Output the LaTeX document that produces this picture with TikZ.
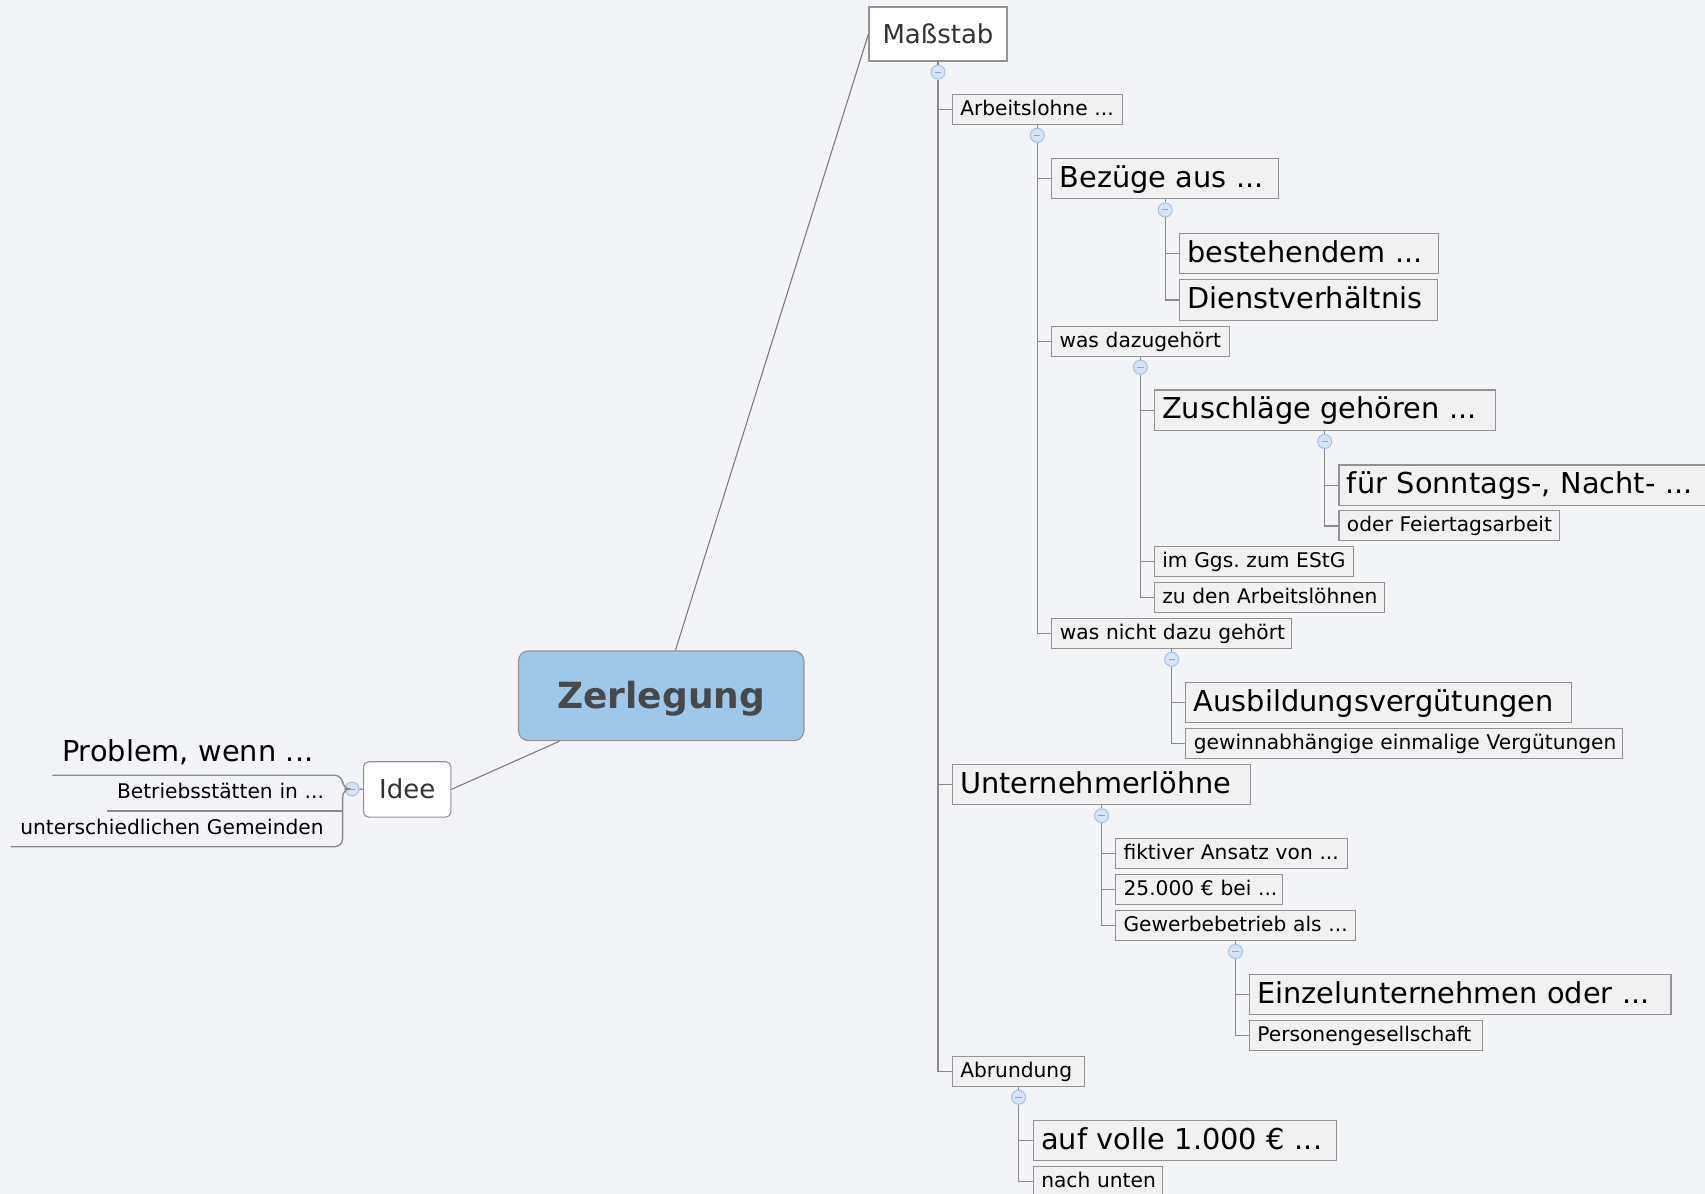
\documentclass[tikz,border=0pt]{standalone}
\usepackage{fontspec}
\setmainfont{DejaVu Sans}
\usetikzlibrary{calc}
\frenchspacing
\definecolor{bg}{HTML}{F3F4F8}
\definecolor{boxfill}{HTML}{F0F1F0}
\definecolor{boxline}{HTML}{939393}
\definecolor{conn}{HTML}{8A8A8A}
\definecolor{circfill}{HTML}{D6E4F7}
\definecolor{circline}{HTML}{A6C1E9}
\definecolor{minuscol}{HTML}{8CA6D2}
\definecolor{rootfill}{HTML}{9DC8EA}
\definecolor{roottext}{HTML}{484848}
\definecolor{darktext}{HTML}{333333}
\tikzset{
  sbox/.style={draw=boxline, fill=boxfill, line width=0.55pt, anchor=west,
    inner xsep=4pt, inner ysep=0pt, align=left, minimum height=15pt,
    font=\fontsize{10.1pt}{12pt}\selectfont, text height=7.4pt, text depth=1.5pt},
  lbox/.style={sbox, minimum height=20.2pt,
    font=\fontsize{14.4pt}{17pt}\selectfont, text height=10.5pt, text depth=1.8pt},
  tw/.style={text width=#1},
  tree/.style={draw=conn, line width=0.65pt},
  link/.style={draw=conn!90!black, line width=0.55pt},
  circ/.style={circle, draw=circline, fill=circfill, line width=0.5pt,
    minimum size=7pt, inner sep=0pt,
    path picture={\draw[minuscol, line width=0.5pt]
      ($(path picture bounding box.center)+(-1.6pt,0)$) -- ++(3.2pt,0);}},
  topic/.style={draw=boxline, fill=white, line width=0.55pt,
    font=\fontsize{13pt}{15pt}\selectfont, text=darktext,
    text height=9.5pt, text depth=0pt, inner sep=0pt},
  root/.style={draw=boxline, fill=rootfill, line width=0.55pt, rounded corners=5pt,
    font=\fontsize{18pt}{20pt}\selectfont\bfseries, text=roottext,
    text height=13.1pt, text depth=0pt, inner sep=0pt,
    minimum width=142.75pt, minimum height=44.85pt},
  lchild/.style={anchor=south west, inner xsep=4.7pt, inner ysep=0pt, align=left,
    font=\fontsize{10.1pt}{12pt}\selectfont, text height=7.4pt, text depth=5.85pt},
  lchildL/.style={lchild, font=\fontsize{14.4pt}{17pt}\selectfont,
    text height=10.5pt, text depth=6.8pt}
}
\begin{document}
\begin{tikzpicture}[x=0.5pt, y=-0.5pt]
\fill[bg] (0,0) rectangle (1705,1194);
\useasboundingbox (0,0) rectangle (1705,1194);

% central topics
\node[root] (zer) at (661.2,695.8) {Zerlegung};
\node[topic, minimum width=69pt, minimum height=27pt] (mass) at (938,34) {Maßstab};
\node[topic, rounded corners=2.5pt, minimum width=43.65pt, minimum height=27.65pt] (idee) at (407.2,789.4) {Idee};

\draw[link] (mass.west) -- (zer);
\draw[link] (idee.east) -- (zer);

% Maßstab subtree
\node[sbox, tw=77pt]     (arb)   at (951.7,109.3)  {\mbox{Arbeitslohne ...}};
\node[lbox, tw=105.65pt] (bez)   at (1051,178.7)   {\mbox{Bezüge aus ...}};
\node[lbox, tw=121.8pt]  (best)  at (1178.7,253.3) {\mbox{bestehendem ...}};
\node[lbox, tw=121pt]    (dien)  at (1178.7,300)   {\mbox{Dienstverhältnis}};
\node[sbox, tw=80.85pt]  (dazu)  at (1051,341.2)   {\mbox{was dazugehört}};
\node[lbox, tw=162.45pt] (zus)   at (1153.7,410.2) {\mbox{Zuschläge gehören ...}};
\node[lbox, tw=177pt]    (sonn)  at (1338.4,485.2) {\mbox{für Sonntags-, Nacht- ...}};
\node[sbox, tw=102.2pt]  (feier) at (1338.4,525.9) {\mbox{oder Feiertagsarbeit}};
\node[sbox, tw=91.65pt]  (ggs)   at (1153.7,561.7) {\mbox{im Ggs. zum EStG}};
\node[sbox, tw=107.3pt]  (zuden) at (1153.7,597.2) {\mbox{zu den Arbeitslöhnen}};
\node[sbox, tw=111.85pt] (nicht) at (1051.3,633.3) {\mbox{was nicht dazu gehört}};
\node[lbox, tw=184.6pt]  (ausb)  at (1185.3,702.3) {\mbox{Ausbildungsvergütungen}};
\node[sbox, tw=210.3pt]  (gewin) at (1185.3,743.7) {\mbox{gewinnabhängige einmalige Vergütungen}};
\node[lbox, tw=141.3pt]  (unt)   at (951.7,784.5)  {\mbox{Unternehmerlöhne}};
\node[sbox, tw=107.85pt] (fikt)  at (1115,853.7)   {\mbox{fiktiver Ansatz von ...}};
\node[sbox, tw=75.35pt]  (euro)  at (1115,889.5)   {\mbox{25.000 € bei ...}};
\node[sbox, tw=112pt]    (gew)   at (1115,925.4)   {\mbox{Gewerbebetrieb als ...}};
\node[lbox, tw=202.8pt]  (einz)  at (1248.8,994.4) {\mbox{Einzelunternehmen oder ...}};
\node[sbox, tw=108.6pt]  (pers)  at (1248.8,1035.4){\mbox{Personengesellschaft}};
\node[sbox, tw=58.3pt]   (abr)   at (951.7,1071.2) {\mbox{Abrundung}};
\node[lbox, tw=143.65pt] (auf)   at (1032.7,1140.3){\mbox{auf volle 1.000 € ...}};
\node[sbox, tw=56.5pt]   (nach)  at (1032.7,1181.7){\mbox{nach unten}};

% collapse circles
\node[circ] (cmass) at ($(mass.south)+(0,10.5)$) {};
\node[circ] (carb)  at ($(arb.south)+(0,10.5)$) {};
\node[circ] (cbez)  at ($(bez.south)+(0,10.5)$) {};
\node[circ] (cdazu) at ($(dazu.south)+(0,10.5)$) {};
\node[circ] (czus)  at ($(zus.south)+(0,10.5)$) {};
\node[circ] (cnich) at ($(nicht.south)+(0,10.5)$) {};
\node[circ] (cunt)  at ($(unt.south)+(0,10.5)$) {};
\node[circ] (cgew)  at ($(gew.south)+(0,10.5)$) {};
\node[circ] (cabr)  at ($(abr.south)+(0,10.5)$) {};

\foreach \p/\c in {mass/cmass, arb/carb, bez/cbez, dazu/cdazu, zus/czus,
                   nicht/cnich, unt/cunt, gew/cgew, abr/cabr}
  \draw[tree] (\p.south) -- (\c.north);

\foreach \c/\k in {cmass/arb, cmass/unt, cmass/abr,
                   carb/bez, carb/dazu, carb/nicht,
                   cbez/best, cbez/dien,
                   cdazu/zus, cdazu/ggs, cdazu/zuden,
                   czus/sonn, czus/feier,
                   cnich/ausb, cnich/gewin,
                   cunt/fikt, cunt/euro, cunt/gew,
                   cgew/einz, cgew/pers,
                   cabr/auf, cabr/nach}
  \draw[tree] (\c.south) |- (\k.west);

% Idee subtree (left, underline style)
\node[circ] (cidee) at (352,789) {};
\draw[tree] (idee.west) -- (cidee.east);
\coordinate (jx) at (342.6,789);
\node[lchildL, tw=135.75pt] (prob)  at (52.3,775.3) {\mbox{Problem, wenn ...}};
\node[lchild,  tw=108.3pt]  (betr)  at (107.2,811)  {\mbox{Betriebsstätten in ...}};
\node[lchild,  tw=156.65pt] (unter) at (10.5,846.7) {\mbox{unterschiedlichen Gemeinden}};
\draw[tree, rounded corners=4pt] (prob.south west) -| (jx) -- (cidee.west);
\draw[tree, rounded corners=4pt] (unter.south west) -| (jx) -- (cidee.west);
\draw[tree] (betr.south west) -- (betr.south east);
\end{tikzpicture}
\end{document}
